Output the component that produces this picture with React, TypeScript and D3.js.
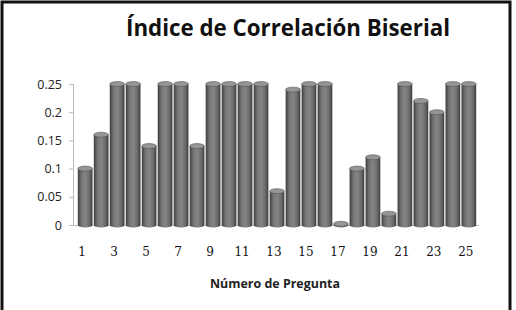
import React from "react";
import * as d3 from "d3";

const questions = d3.range(1, 26);
const values = [0.1, 0.16, 0.25, 0.25, 0.14, 0.25, 0.25, 0.14, 0.25, 0.25, 0.25, 0.25, 0.06, 0.24, 0.25, 0.25, 0.002, 0.1, 0.12, 0.02, 0.25, 0.22, 0.2, 0.25, 0.25];
const yTicks = [0, 0.05, 0.1, 0.15, 0.2, 0.25];
const xTickLabels = questions.filter((q) => q % 2 === 1);
const title = "Índice de Correlación Biserial";
const xTitle = "Número de Pregunta";

export default function App() {
  const W = 516, H = 310;
  const x = d3.scaleBand<number>().domain(questions).range([77, 477]).paddingInner(0.08).paddingOuter(0.05);
  const y = d3.scaleLinear().domain([0, 0.25]).range([225, 84]);
  const bw = x.bandwidth();
  const ry = 2.5;
  return (
    <div style={{ position: "fixed", left: 0, top: 0 }}>
      <svg width={W} height={H} style={{ display: "block", background: "#fff" }}>
        <defs>
          <linearGradient id="cyl" x1="0" x2="1" y1="0" y2="0">
            <stop offset="0" stopColor="#3e3e3e" />
            <stop offset="0.25" stopColor="#747474" />
            <stop offset="0.5" stopColor="#858585" />
            <stop offset="0.8" stopColor="#6a6a6a" />
            <stop offset="1" stopColor="#3a3a3a" />
          </linearGradient>
        </defs>
        <rect x={2} y={2} width={508} height={310} fill="none" stroke="#111" strokeWidth={3} />
        <text x={288} y={36} textAnchor="middle" fontFamily="Open Sans, Noto Sans, sans-serif" fontWeight="bold" fontSize={23} textLength={324} lengthAdjust="spacingAndGlyphs" fill="#111">{title}</text>
        <line x1={73.5} x2={73.5} y1={y(0.25)} y2={y(0)} stroke="#bbb" />
        <line x1={73.5} x2={479} y1={y(0) + 0.5} y2={y(0) + 0.5} stroke="#bbb" />
        {yTicks.map((t) => (
          <g key={t}>
            <line x1={69} x2={73.5} y1={y(t) + 0.5} y2={y(t) + 0.5} stroke="#bbb" />
            <text x={62} y={y(t) + 4.5} textAnchor="end" fontFamily="Open Sans, sans-serif" fontSize={12.5} fill="#222">{String(t)}</text>
          </g>
        ))}
        {questions.map((q, i) => {
          const x0 = x(q)!;
          const yt = y(values[i]);
          const yb = y(0);
          return (
            <g key={q}>
              <path d={`M${x0},${yt} L${x0},${yb} A${bw / 2},${ry} 0 0 0 ${x0 + bw},${yb} L${x0 + bw},${yt} Z`} fill="url(#cyl)" />
              <ellipse cx={x0 + bw / 2} cy={yt} rx={bw / 2} ry={ry} fill="#959595" stroke="#555" strokeWidth={0.6} />
            </g>
          );
        })}
        {xTickLabels.map((q) => (
          <text key={q} x={x(q)! + bw / 2 - 3} y={256} textAnchor="middle" fontFamily="DejaVu Serif, serif" fontSize={12} fill="#111">{q}</text>
        ))}
        <text x={275} y={288} textAnchor="middle" fontFamily="Open Sans, sans-serif" fontWeight="bold" fontSize={11.5} textLength={130} lengthAdjust="spacingAndGlyphs" fill="#222">{xTitle}</text>
      </svg>
    </div>
  );
}
